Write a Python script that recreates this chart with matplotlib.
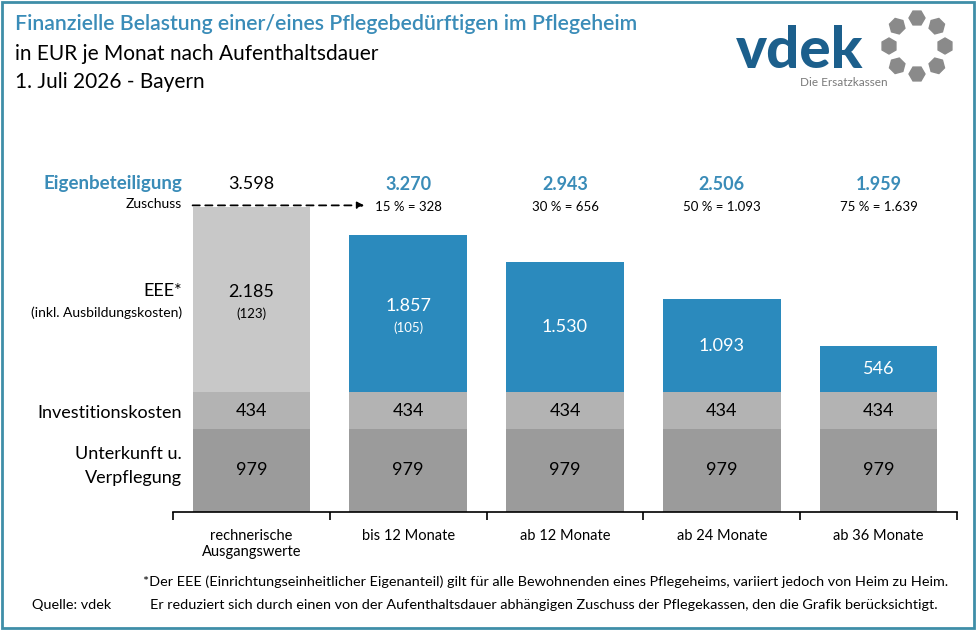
import numpy as np
import matplotlib.pyplot as plt
from matplotlib.patches import Rectangle, RegularPolygon

plt.rcParams['font.family'] = ['Lato', 'DejaVu Sans']

# data
categories = ['rechnerische\nAusgangswerte', 'bis 12 Monate', 'ab 12 Monate',
              'ab 24 Monate', 'ab 36 Monate']
unterkunft = [979, 979, 979, 979, 979]
investition = [434, 434, 434, 434, 434]
eee = [2185, 1857, 1530, 1093, 546]
ausbildung = [123, 105, None, None, None]
zuschuss_pct = [15, 30, 50, 75]
zuschuss_eur = [328, 656, 1093, 1639]

BLUE = '#2b8abd'
TXT_BLUE = '#3a8cb8'
GRAY_L = '#c8c8c8'
GRAY_M = '#b3b3b3'
GRAY_D = '#9b9b9b'


def de(v):
    return f'{v:,}'.replace(',', '.')


W, H = 976, 630
fig = plt.figure(figsize=(W / 100, H / 100), dpi=100)

# background layer in pixel coordinates
bg = fig.add_axes([0, 0, 1, 1])
bg.set_xlim(0, W)
bg.set_ylim(H, 0)
bg.axis('off')
bg.add_patch(Rectangle((1.5, 1.5), W - 4, H - 4, fill=False, ec='#3f8ea8', lw=2))

# titles
bg.text(15, 24, 'Finanzielle Belastung einer/eines Pflegebedürftigen im Pflegeheim',
        color=TXT_BLUE, fontsize=15.3, fontweight='semibold', va='center')
bg.text(15, 54, 'in EUR je Monat nach Aufenthaltsdauer', fontsize=15, va='center')
bg.text(15, 82, '1. Juli 2026 - Bayern', fontsize=15, va='center')

# logo
bg.text(736, 68, 'vdek', color='#1c5f8c', fontsize=42, fontweight='black',
        va='baseline', ha='left')
bg.text(888, 83, 'Die Ersatzkassen', color='#7a7a7a', fontsize=8.5,
        va='center', ha='right')
for ang in np.arange(0, 360, 45):
    a = np.radians(ang)
    bg.add_patch(RegularPolygon((917 + 28 * np.cos(a), 46 + 28 * np.sin(a)), 6,
                                radius=8, orientation=a, color='#8a8a8a'))

# left row labels
lx = 182
bg.text(lx, 184, 'Eigenbeteiligung', color=TXT_BLUE, fontsize=13.5,
        fontweight='bold', ha='right', va='center')
bg.text(lx, 204, 'Zuschuss', fontsize=10, ha='right', va='center')
bg.text(lx, 291, 'EEE*', fontsize=13, ha='right', va='center')
bg.text(lx, 313, '(inkl. Ausbildungskosten)', fontsize=10, ha='right', va='center')
bg.text(lx, 413, 'Investitionskosten', fontsize=13, ha='right', va='center')
bg.text(lx, 454, 'Unterkunft u.', fontsize=13, ha='right', va='center')
bg.text(lx, 478, 'Verpflegung', fontsize=13, ha='right', va='center')

# footnotes
bg.text(143, 582, '*Der EEE (Einrichtungseinheitlicher Eigenanteil) gilt für alle '
        'Bewohnenden eines Pflegeheims, variiert jedoch von Heim zu Heim.',
        fontsize=10.4, va='center')
bg.text(150, 605, 'Er reduziert sich durch einen von der Aufenthaltsdauer abhängigen '
        'Zuschuss der Pflegekassen, den die Grafik berücksichtigt.',
        fontsize=10.4, va='center')
bg.text(32, 605, 'Quelle: vdek', fontsize=10.4, va='center')

# main chart
ax = fig.add_axes([173 / W, (H - 512) / H, 784 / W, 352 / H])
ax.patch.set_alpha(0)
x = np.arange(len(categories))
bw = 0.75
u = np.array(unterkunft)
inv = np.array(investition)
e = np.array(eee)
eee_colors = [GRAY_L] + [BLUE] * (len(e) - 1)
ax.bar(x, u, bw, color=GRAY_D)
ax.bar(x, inv, bw, bottom=u, color=GRAY_M)
ax.bar(x, e, bw, bottom=u + inv, color=eee_colors)
total = u + inv + e

ax.set_xlim(-0.5, len(categories) - 0.5)
ax.set_ylim(0, 4150)
for s in ['left', 'right', 'top']:
    ax.spines[s].set_visible(False)
ax.spines['bottom'].set_linewidth(1.2)
ax.set_yticks([])
ax.set_xticks(np.arange(-0.5, len(categories)), [''] * (len(categories) + 1))
ax.tick_params(axis='x', which='major', length=6, width=1.2, direction='out')
ax.set_xticks(x, categories, minor=True)
ax.tick_params(axis='x', which='minor', length=0, pad=12, labelsize=10.5)

for i in range(len(x)):
    txt_c = 'black' if i == 0 else 'white'
    ax.text(x[i], u[i] / 2, de(u[i]), ha='center', va='center', fontsize=13)
    ax.text(x[i], u[i] + inv[i] / 2, de(inv[i]), ha='center', va='center', fontsize=13)
    mid = u[i] + inv[i] + e[i] / 2
    if ausbildung[i] is not None:
        ax.annotate(de(e[i]), (x[i], mid), xytext=(0, 7), textcoords='offset pixels',
                    ha='center', va='center', fontsize=13, color=txt_c)
        ax.annotate(f'({ausbildung[i]})', (x[i], mid), xytext=(0, -14),
                    textcoords='offset pixels', ha='center', va='center',
                    fontsize=9.5, color=txt_c)
    else:
        ax.text(x[i], mid, de(e[i]), ha='center', va='center', fontsize=13,
                color=txt_c)
    if i == 0:
        ax.text(x[i], 3865, de(total[i]), ha='center', va='center', fontsize=13)
    else:
        ax.text(x[i], 3865, de(total[i]), ha='center', va='center', fontsize=13,
                color=TXT_BLUE, fontweight='bold')
        ax.text(x[i], 3600, f'{zuschuss_pct[i - 1]} % = {de(zuschuss_eur[i - 1])}',
                ha='center', va='center', fontsize=9.5)

ax.annotate('', xy=(0.72, 3615), xytext=(-bw / 2, 3615),
            arrowprops=dict(arrowstyle='-|>', linestyle=(0, (4, 3)), color='black',
                            lw=1.3, mutation_scale=10, shrinkA=0, shrinkB=0),
            annotation_clip=False)

fig.savefig('out.png', dpi=100)
